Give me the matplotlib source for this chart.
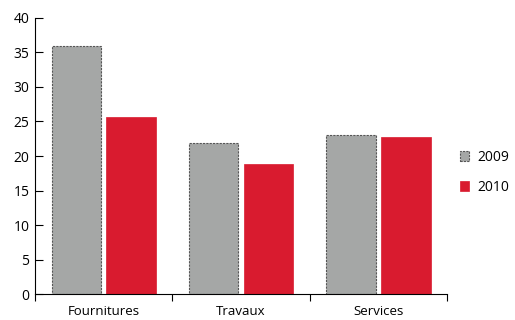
import numpy as np
import matplotlib
matplotlib.use("Agg")
import matplotlib.pyplot as plt

categories = ["Fournitures", "Travaux", "Services"]
years = ["2009", "2010"]
vals_2009 = [36, 21.9, 23.0]
vals_2010 = [25.6, 18.8, 22.7]

plt.rcParams['font.family'] = ['Open Sans', 'DejaVu Sans']

fig = plt.figure(figsize=(5.15, 3.2), dpi=100)
ax = fig.add_axes([0.068, 0.081, 0.8, 0.863])

x = np.arange(len(categories))
w = 0.36
ax.bar(x - 0.2, vals_2009, w, color="#a5a7a6", edgecolor="#555555",
       linestyle=(0, (2, 1)), linewidth=0.8, label=years[0])
ax.bar(x + 0.2, vals_2010, w, color="#d91b2f", edgecolor="#d91b2f",
       linewidth=0.5, label=years[1])

ax.set_xlim(-0.5, 2.5)
ax.set_ylim(0, 40)
ax.set_yticks(range(0, 41, 5))
ax.set_xticks(x)
ax.set_xticklabels(categories)
ax.set_xticks([-0.5, 0.5, 1.5, 2.5], minor=True)
ax.tick_params(axis="x", which="major", length=0, labelsize=9.5, pad=8)
ax.tick_params(axis="x", which="minor", length=5, direction="out", width=0.8)
ax.tick_params(axis="y", direction="in", length=6, width=0.8, labelsize=10, pad=4)

for s in ["top", "right"]:
    ax.spines[s].set_visible(False)
ax.spines["left"].set_linewidth(0.8)
ax.spines["bottom"].set_linewidth(0.8)

ax.legend(loc="center left", bbox_to_anchor=(1.0, 0.44), frameon=False,
          fontsize=10, handlelength=0.7, handleheight=0.7, labelspacing=1.1,
          handletextpad=0.6, borderpad=0.2, borderaxespad=0.7)

fig.savefig("out.png", dpi=100)
